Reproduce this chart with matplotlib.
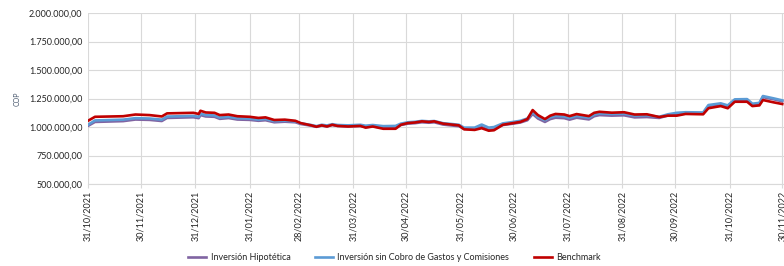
import matplotlib
matplotlib.use("Agg")
import matplotlib.pyplot as plt
from matplotlib.ticker import FuncFormatter
import numpy as np
import datetime as dt

plt.rcParams['font.family'] = ['Lato', 'DejaVu Sans']

start = dt.date(2021, 10, 31)
day_offsets = [0, 4, 20, 27, 35, 42, 45, 60, 63, 64, 67, 72, 75, 80, 85, 92, 97, 101, 106, 112,
               118, 121, 127, 130, 133, 136, 139, 142, 148, 155, 158, 162, 168, 175, 178, 182, 186,
               190, 194, 197, 202, 208, 211, 214, 220, 224, 228, 231, 236, 242, 246, 250, 253, 256,
               260, 263, 266, 271, 274, 278, 285, 288, 291, 298, 305, 311, 318, 325, 330, 335, 340,
               350, 353, 360, 364, 368, 375, 378, 382, 384, 390, 395]
dates = [start + dt.timedelta(days=d) for d in day_offsets]

benchmark = [1055, 1090, 1095, 1110, 1105, 1093, 1120, 1125, 1115, 1143, 1128, 1125, 1105, 1110,
             1095, 1090, 1080, 1085, 1062, 1065, 1055, 1035, 1015, 1003, 1015, 1005, 1020, 1010,
             1005, 1010, 995, 1005, 985, 985, 1020, 1035, 1040, 1050, 1045, 1050, 1030, 1020, 1015,
             980, 975, 990, 968, 972, 1020, 1035, 1045, 1070, 1149, 1105, 1070, 1100, 1115, 1110,
             1096, 1114, 1096, 1125, 1134, 1126, 1130, 1110, 1112, 1088, 1100, 1100, 1115, 1112,
             1165, 1184, 1165, 1222, 1222, 1184, 1190, 1237, 1217, 1202]
sin_gastos = [1020, 1058, 1065, 1078, 1075, 1065, 1092, 1098, 1090, 1118, 1105, 1102, 1083, 1090,
              1077, 1074, 1065, 1071, 1052, 1056, 1050, 1033, 1018, 1008, 1020, 1014, 1025, 1018,
              1015, 1020, 1012, 1018, 1008, 1010, 1030, 1042, 1046, 1054, 1050, 1053, 1034, 1025,
              1020, 995, 995, 1022, 995, 1000, 1032, 1045, 1055, 1075, 1130, 1090, 1060, 1085, 1098,
              1093, 1080, 1098, 1082, 1110, 1120, 1115, 1118, 1100, 1103, 1090, 1112, 1125, 1130,
              1128, 1193, 1208, 1190, 1243, 1245, 1205, 1212, 1272, 1252, 1234]
hipotetica = [1010, 1045, 1052, 1066, 1063, 1053, 1080, 1086, 1078, 1105, 1093, 1090, 1072, 1079,
              1066, 1063, 1055, 1060, 1042, 1047, 1042, 1027, 1012, 1002, 1013, 1006, 1018, 1010,
              1006, 1010, 1000, 1006, 994, 992, 1018, 1030, 1034, 1042, 1038, 1042, 1022, 1012,
              1008, 985, 982, 1000, 975, 980, 1018, 1030, 1040, 1060, 1115, 1075, 1045, 1070, 1082,
              1078, 1065, 1082, 1067, 1095, 1105, 1100, 1103, 1085, 1088, 1080, 1102, 1112, 1118,
              1118, 1185, 1200, 1182, 1235, 1237, 1197, 1204, 1263, 1244, 1226]

tick_labels = ["31/10/2021", "30/11/2021", "31/12/2021", "31/01/2022", "28/02/2022", "31/03/2022",
               "30/04/2022", "31/05/2022", "30/06/2022", "31/07/2022", "31/08/2022", "30/09/2022",
               "31/10/2022", "30/11/2022"]
y_ticks = [500000, 750000, 1000000, 1250000, 1500000, 1750000, 2000000]

tick_dates = [dt.datetime.strptime(t, "%d/%m/%Y").date() for t in tick_labels]

fig = plt.figure(figsize=(7.84, 2.66), dpi=100)
ax = fig.add_axes([0.1122, 0.308, 0.8878, 0.643])

k = 1000
ax.plot(dates, np.array(hipotetica) * k, color="#8064A2", lw=1.9, label="Inversión Hipotética", zorder=3)
ax.plot(dates, np.array(sin_gastos) * k, color="#5B9BD5", lw=1.9,
        label="Inversión sin Cobro de Gastos y Comisiones", zorder=4)
ax.plot(dates, np.array(benchmark) * k, color="#C00000", lw=1.9, label="Benchmark", zorder=5)

ax.set_xlim(tick_dates[0], tick_dates[-1] + dt.timedelta(days=1))
ax.set_ylim(500000, 2000000)
ax.set_yticks(y_ticks)
ax.yaxis.set_major_formatter(FuncFormatter(
    lambda v, p: f"{v:,.2f}".replace(",", "X").replace(".", ",").replace("X", ".")))
ax.set_xticks(tick_dates)
ax.set_xticklabels(tick_labels, rotation=90, fontsize=6.5, color="#262626")
ax.tick_params(axis='y', labelsize=6.5, colors="#262626", length=0, pad=4)
ax.tick_params(axis='x', length=3, color="#D9D9D9", pad=2)
ax.grid(True, color="#D9D9D9", lw=0.8)
ax.set_axisbelow(True)
for s in ["top", "right", "left"]:
    ax.spines[s].set_visible(False)
ax.spines["bottom"].set_color("#D9D9D9")
ax.set_ylabel("COP", fontsize=5, color="#44546A", labelpad=6)

fig.legend(loc="lower center", bbox_to_anchor=(0.503, -0.015), ncol=3, frameon=False, fontsize=6.5,
           handlelength=2.0, columnspacing=2.7, handletextpad=0.5, labelcolor="#262626")

fig.savefig("out.png", dpi=100)
